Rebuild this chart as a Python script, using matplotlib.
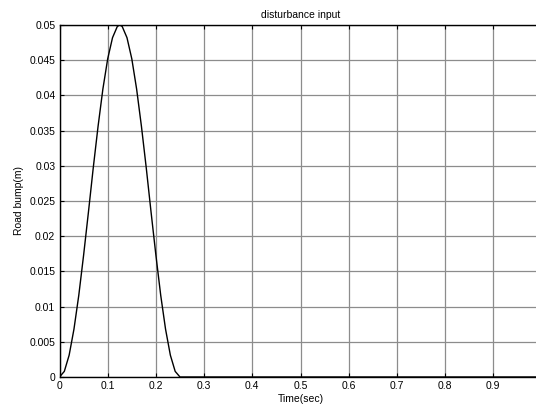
import matplotlib
matplotlib.use("Agg")
import matplotlib.pyplot as plt

# Data
time_s = [0.0, 0.01, 0.02, 0.03, 0.04, 0.05, 0.06, 0.07, 0.08, 0.09, 0.10,
          0.11, 0.12, 0.125, 0.13, 0.14, 0.15, 0.16, 0.17, 0.18, 0.19, 0.20,
          0.21, 0.22, 0.23, 0.24, 0.25, 1.0]
bump_m = [0.0, 0.0008, 0.0031, 0.0068, 0.0116, 0.0173, 0.0234, 0.0297, 0.0356,
          0.0409, 0.0452, 0.0482, 0.0498, 0.05, 0.0498, 0.0482, 0.0452, 0.0409,
          0.0356, 0.0297, 0.0234, 0.0173, 0.0116, 0.0068, 0.0031, 0.0008, 0.0, 0.0]
xticks = [0, 0.1, 0.2, 0.3, 0.4, 0.5, 0.6, 0.7, 0.8, 0.9]
xtick_labels = ["0", "0.1", "0.2", "0.3", "0.4", "0.5", "0.6", "0.7", "0.8", "0.9"]
yticks = [0, 0.005, 0.01, 0.015, 0.02, 0.025, 0.03, 0.035, 0.04, 0.045, 0.05]
ytick_labels = ["0", "0.005", "0.01", "0.015", "0.02", "0.025", "0.03", "0.035", "0.04", "0.045", "0.05"]

plt.rcParams['font.family'] = ['Liberation Sans', 'DejaVu Sans']

W, H = 536, 407
fig = plt.figure(figsize=(W / 100, H / 100), dpi=100)
left, right_px = 59.5, 59.5 + 482.0
top, bottom = 25.0, 377.0
ax = fig.add_axes([left / W, 1 - bottom / H, (right_px - left) / W, (bottom - top) / H])

ax.plot(time_s, bump_m, color='black', linewidth=1.0, zorder=3)
ax.set_xlim(0, 1.0)
ax.set_ylim(0, 0.05)
ax.set_xticks(xticks)
ax.set_xticklabels(xtick_labels)
ax.set_yticks(yticks)
ax.set_yticklabels(ytick_labels)
ax.grid(True, color='0.55', linestyle='-', linewidth=0.9)
ax.tick_params(direction='in', length=3, width=0.8, labelsize=7.5, top=True, right=False, pad=3)
for s in ax.spines.values():
    s.set_linewidth(1.0)

ax.set_title("disturbance input", fontsize=7.5, pad=5)
ax.set_xlabel("Time(sec)", fontsize=7.5, labelpad=2)
ax.set_ylabel("Road bump(m)", fontsize=7.5, labelpad=4)

fig.savefig("out.png", dpi=100)
